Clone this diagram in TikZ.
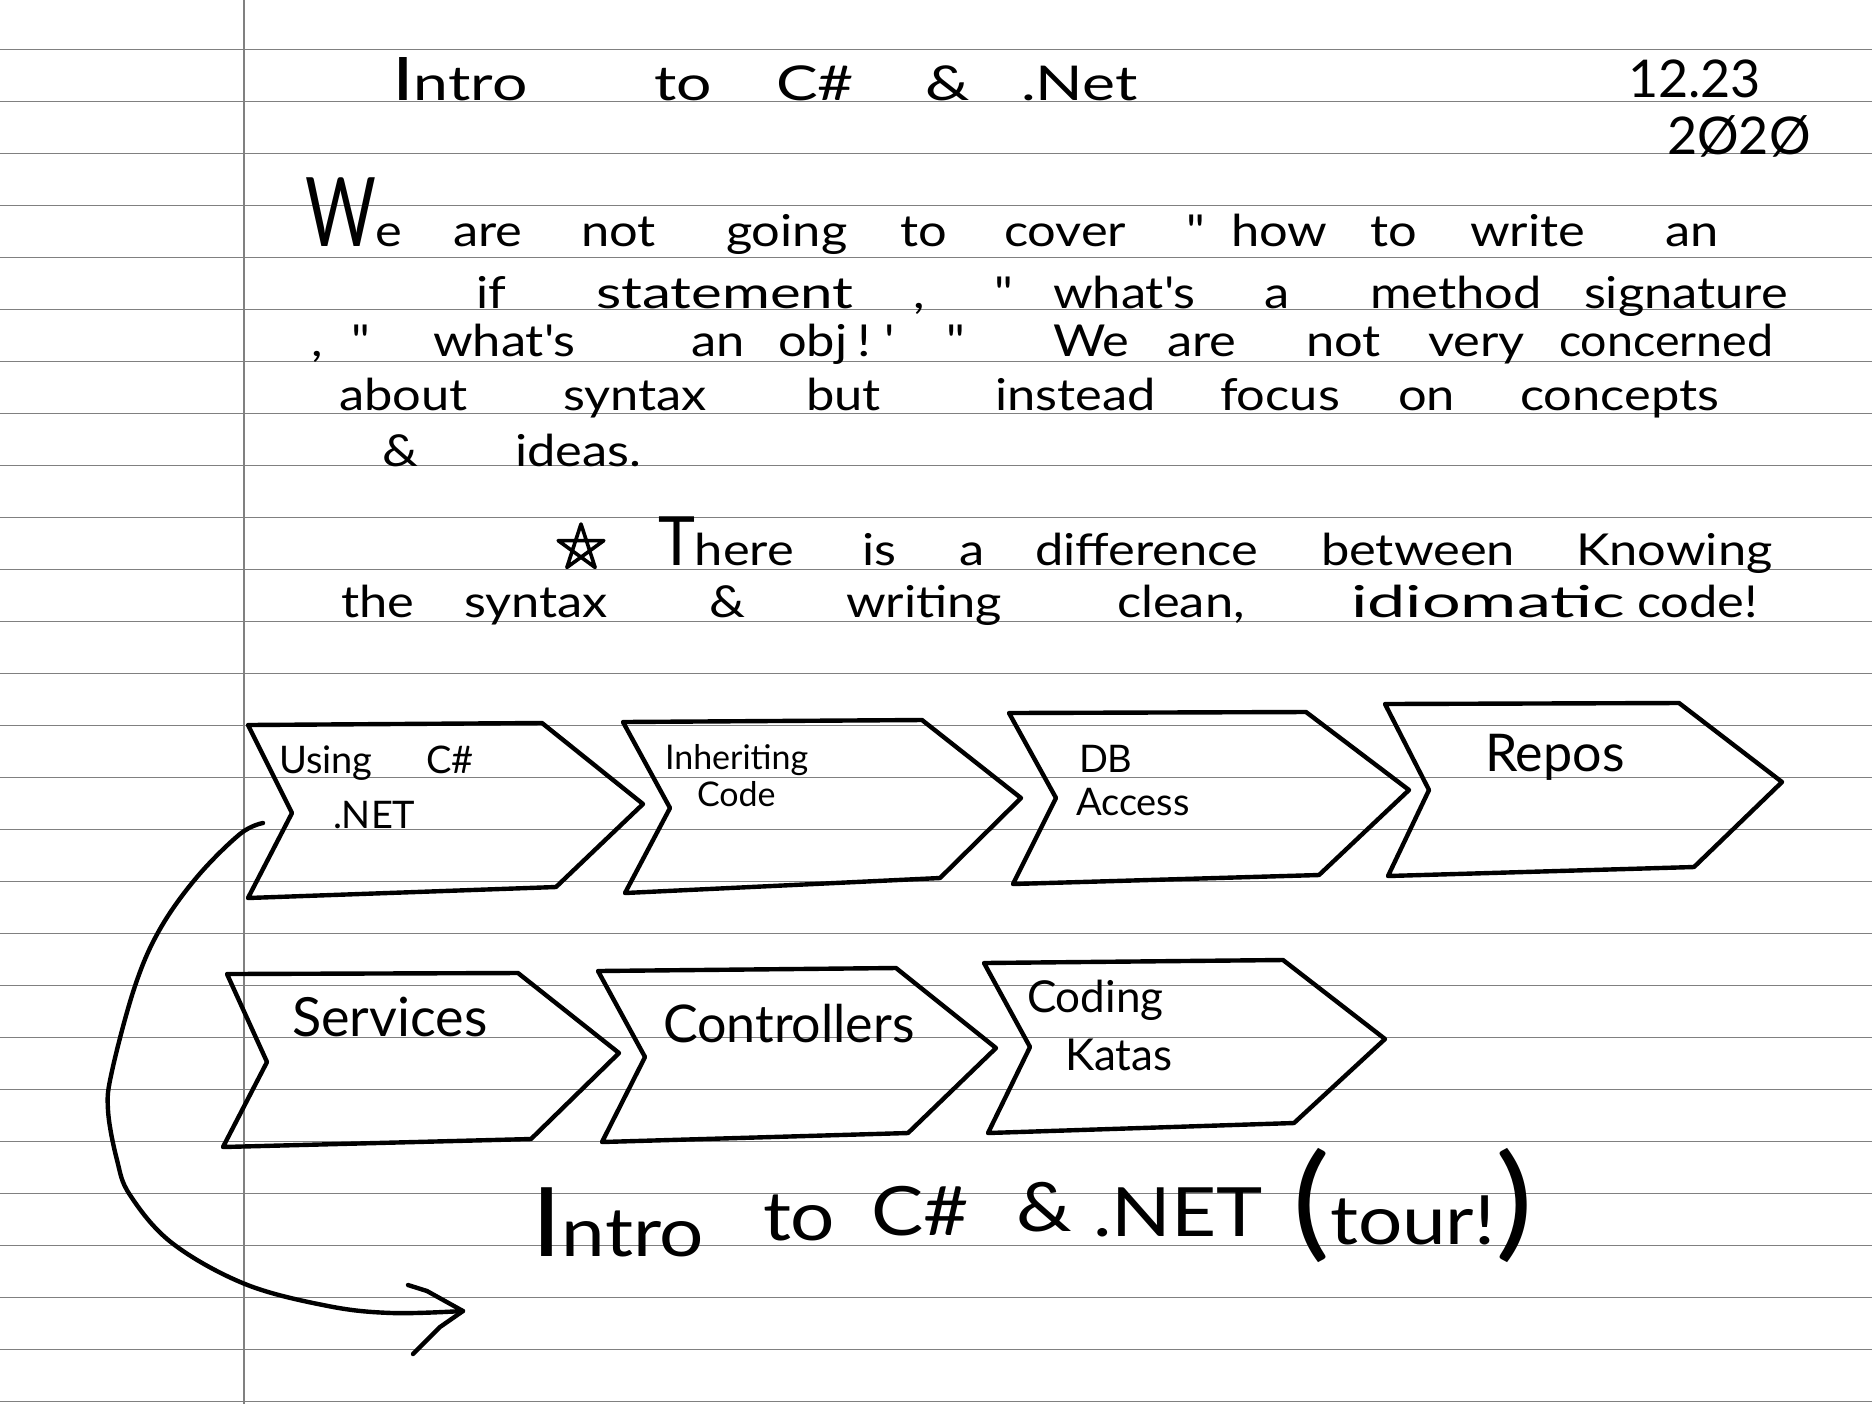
\documentclass[tikz,border=0pt]{standalone}
\usepackage{fontspec}
\newfontfamily\hand{Lato}
\newfontfamily\handw[FakeStretch=1.15]{Lato}
\newfontfamily\handx[FakeStretch=1.3]{Lato}
\definecolor{rulegray}{RGB}{128,128,128}
\begin{document}
\begin{tikzpicture}[x=0.5pt,y=-0.5pt,
  rule/.style={draw=rulegray, line width=0.75pt},
  pen/.style={draw=black, line width=2.2pt, line cap=round, line join=round},
  txt/.style={anchor=base west, inner sep=0pt, outer sep=0pt, font=\handw\fontsize{22}{22}\selectfont},
  ttl/.style={anchor=base west, inner sep=0pt, outer sep=0pt, font=\handx\fontsize{24}{24}\selectfont},
  big/.style={anchor=base west, inner sep=0pt, outer sep=0pt, font=\handw\fontsize{34}{34}\selectfont},
  lab/.style={anchor=base west, inner sep=0pt, outer sep=0pt, font=\hand\fontsize{#1}{#1}\selectfont},
  lab/.default=19]
\useasboundingbox (0,0) rectangle (1872,1404);
\fill[white] (0,0) rectangle (1872,1404);
% ruled paper
\foreach \k in {0,...,26} \draw[rule] (0,{49.3+52*\k}) -- (1872,{49.3+52*\k});
\draw[rule] (244,0) -- (244,1404);

% title and date
\node[ttl] (t1) at (392,100) {{\fontsize{30}{30}\selectfont I}ntro};
\node[ttl] (t2) at (654,100) {to};
\node[ttl] (t3) at (776,100) {C\#};
\node[ttl] (t4) at (925,100) {\&};
\node[ttl] (t5) at (1021,100) {.Net};
\node[lab=26] (d1) at (1628,97) {12.23};
\node[lab=26] (d2) at (1667,154) {2Ø2Ø};

% line A
\node[txt] (a1) at (305,246) {\scalebox{0.62}[1]{\fontsize{48}{48}\selectfont W}e};
\node[txt] (a2) at (453,246) {are};
\node[txt] (a3) at (581,246) {not};
\node[txt] (a4) at (726,246) {going};
\node[txt] (a5) at (900,246) {to};
\node[txt] (a6) at (1004,246) {cover};
\node[txt] (a7) at (1186,246) {"};
\node[txt] (a8) at (1231,246) {how};
\node[txt] (a9) at (1370,246) {to};
\node[txt] (a10) at (1470,246) {write};
\node[txt] (a11) at (1665,246) {an};
% line B
\node[txt] (b1) at (476,308) {if};
\node[txt] (b2) at (596,308) {\scalebox{1.15}[1]{statement}};
\node[txt] (b3) at (913,308) {,};
\node[txt] (b4) at (994,308) {"};
\node[txt] (b5) at (1053,308) {what's};
\node[txt] (b6) at (1264,308) {a};
\node[txt] (b7) at (1370,308) {method};
\node[txt] (b8) at (1584,308) {signature};
% line C
\node[txt] (c1) at (311,356) {,};
\node[txt] (c2) at (351,356) {"};
\node[txt] (c3) at (433,356) {what's};
\node[txt] (c4) at (691,356) {an};
\node[txt] (c5) at (778,356) {obj};
\node[txt] (c6) at (857,356) {!};
\node[txt] (c7) at (884,356) {'};
\node[txt] (c8) at (946,356) {"};
\node[txt] (c9) at (1053,356) {We};
\node[txt] (c10) at (1167,356) {are};
\node[txt] (c11) at (1306,356) {not};
\node[txt] (c12) at (1428,356) {very};
\node[txt] (c13) at (1559,356) {\scalebox{0.92}[1]{concerned}};
% line D
\node[txt] (e1) at (339,410) {about};
\node[txt] (e2) at (563,410) {syntax};
\node[txt] (e3) at (806,410) {but};
\node[txt] (e4) at (995,410) {instead};
\node[txt] (e5) at (1220,410) {focus};
\node[txt] (e6) at (1398,410) {on};
\node[txt] (e7) at (1520,410) {concepts};
% line E
\node[txt] (f1) at (382,466) {\&};
\node[txt] (f2) at (515,466) {ideas.};
% line F
\begin{scope}[shift={(581,548)}]
\draw[pen, line width=1.8pt] (-90:24) -- (54:24) -- (198:24) -- (-18:24) -- (126:24) -- cycle;
\end{scope}
\node[txt] (g1) at (658,565) {\scalebox{0.8}[1]{\fontsize{34}{34}\selectfont T}here};
\node[txt] (g2) at (862,565) {is};
\node[txt] (g3) at (959,565) {a};
\node[txt] (g4) at (1035,565) {difference};
\node[txt] (g5) at (1321,565) {between};
\node[txt] (g6) at (1576,565) {Knowing};
% line G
\node[txt] (h1) at (341,617) {the};
\node[txt] (h2) at (464,617) {syntax};
\node[txt] (h3) at (709,617) {\&};
\node[txt] (h4) at (846,617) {writing};
\node[txt] (h5) at (1117,617) {clean,};
\node[txt] (h6) at (1351,617) {\scalebox{1.35}[1]{idiomatic}};
\node[txt] (h7) at (1637,617) {code!};

% chevrons row 1
\draw[pen] (248,725) -- (542,723) -- (643,804) -- (556,887) -- (248,898) -- (292,813) -- cycle;
\draw[pen] (623,722) -- (922,720) -- (1021,798) -- (940,878) -- (625,893) -- (670,808) -- cycle;
\draw[pen] (1009,713) -- (1306,712) -- (1409,790) -- (1319,875) -- (1013,884) -- (1056,798) -- cycle;
\draw[pen] (1385,704) -- (1679,703) -- (1782,782) -- (1694,867) -- (1388,876) -- (1429,790) -- cycle;
% chevrons row 2
\draw[pen] (227,974) -- (518,973) -- (619,1053) -- (531,1139) -- (223,1147) -- (267,1062) -- cycle;
\draw[pen] (598,971) -- (896,968) -- (996,1048) -- (908,1133) -- (602,1142) -- (645,1057) -- cycle;
\draw[pen] (984,963) -- (1283,960) -- (1385,1039) -- (1294,1123) -- (988,1133) -- (1030,1047) -- cycle;

% chevron labels
\node[lab=19] (l1a) at (279,773) {Using};
\node[lab=19] (l1b) at (426,773) {C\#};
\node[lab=19] (l1c) at (333,828) {.NET};
\node[lab=17] (l2a) at (665,769) {Inheriting};
\node[lab=17] (l2b) at (697,806) {Code};
\node[lab=19] (l3a) at (1079,772) {DB};
\node[lab=19] (l3b) at (1076,815) {Access};
\node[lab=26] (l4) at (1485,771) {Repos};
\node[lab=27] (l5) at (292,1036) {Services};
\node[lab=26] (l6) at (663,1042) {Controllers};
\node[lab=22] (l7a) at (1027,1012) {Coding};
\node[lab=22] (l7b) at (1065,1070) {Katas};

% bottom title
\node[big] (i1) at (531,1256) {{\fontsize{48}{48}\selectfont I}ntro};
\node[big] (i2) at (763,1240) {to};
\node[big] (i3) at (871,1235) {C\#};
\node[big] (i4) at (1016,1231) {\&};
\node[big] (i5) at (1093,1236) {.NET};
\node[big] (i6) at (1292,1244) {{\fontsize{62}{62}\selectfont (}tour!{\fontsize{62}{62}\selectfont )}};

% curved arrow
\coordinate (arrStart) at (263,823);
\coordinate (arrEnd) at (463,1311);
\draw[pen] plot[smooth, tension=0.6] coordinates {(arrStart) (240,834) (197,877) (160,929) (135,986) (112,1071) (108,1110) (117,1160) (130,1195) (172,1243) (245,1284) (328,1306) (392,1313) (arrEnd)};
\draw[pen] (408,1285) -- (427,1291) -- (arrEnd) -- (440,1327) -- (413,1354);
\end{tikzpicture}
\end{document}
